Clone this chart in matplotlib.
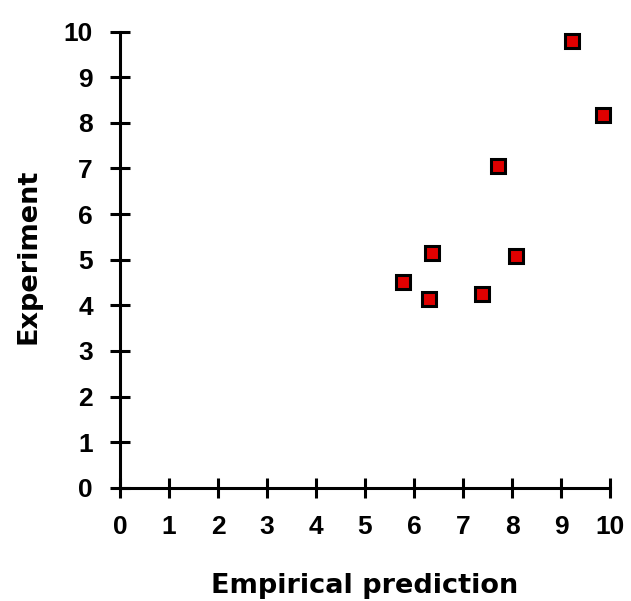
import matplotlib
matplotlib.use("Agg")
import matplotlib.pyplot as plt

# Measured values
empirical = [5.77, 6.31, 6.36, 7.39, 7.71, 8.08, 9.22, 9.85]
experiment = [4.52, 4.13, 5.14, 4.25, 7.05, 5.09, 9.80, 8.17]
ticks = list(range(0, 11))

W, H, DPI = 631, 601, 100
fig = plt.figure(figsize=(W / DPI, H / DPI), dpi=DPI)
ax = fig.add_axes([120 / W, 113.3 / H, 490 / W, 456 / H])

ax.plot(empirical, experiment, linestyle="none", marker="s",
        markersize=9.4, markerfacecolor="#e00000",
        markeredgecolor="black", markeredgewidth=2.2, clip_on=False)

ax.set_xlim(0, 10)
ax.set_ylim(0, 10)
ax.set_xticks(ticks)
ax.set_yticks(ticks)

for side in ("top", "right"):
    ax.spines[side].set_visible(False)
for side in ("left", "bottom"):
    ax.spines[side].set_linewidth(2.2)

ax.tick_params(axis="both", direction="inout", length=13.7, width=2.2)
ax.tick_params(axis="x", pad=12.5)
ax.tick_params(axis="y", pad=12.6)
for lab in ax.get_xticklabels() + ax.get_yticklabels():
    lab.set_fontfamily(["Liberation Sans", "DejaVu Sans"])
    lab.set_fontweight("bold")
    lab.set_fontsize(19)

font = dict(family="DejaVu Sans", weight="bold", fontsize=19.5)
ax.set_xlabel("Empirical prediction", va="baseline", **font)
ax.set_ylabel("Experiment", va="baseline", **font)
ax.xaxis.set_label_coords(0.5, (487.7 - 593) / 456)
ax.yaxis.set_label_coords((36 - 120) / 490, (487.7 - 256) / 456)

fig.savefig("out.png", dpi=DPI, facecolor="white")
